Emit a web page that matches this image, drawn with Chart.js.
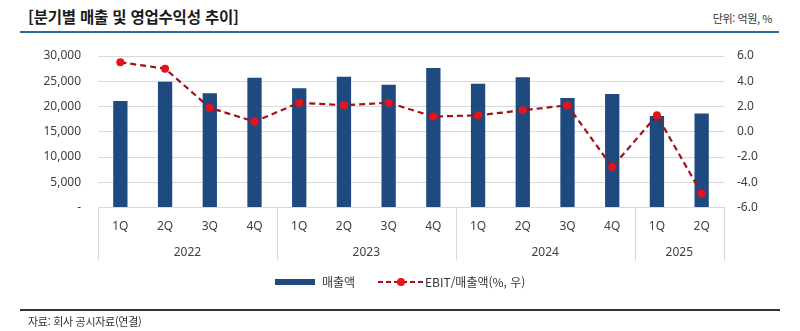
<!DOCTYPE html>
<html lang="ko">
<head>
<meta charset="utf-8">
<title>분기별 매출 및 영업수익성 추이</title>
<script src="https://cdn.jsdelivr.net/npm/chart.js@4.4.1/dist/chart.umd.min.js"></script>
<style>
  html, body { margin: 0; padding: 0; background: #ffffff; }
  #wrap { position: relative; width: 800px; height: 331px; overflow: hidden; font-family: "Noto Sans CJK KR", "Noto Sans", sans-serif; color: #222; }
  #chart { position: absolute; left: 0; top: 0; }
  .title { position: absolute; left: 28px; top: 6px; font-size: 15.5px; font-weight: bold; line-height: 20px; color: #1a1a1a; letter-spacing: -0.2px; }
  .title-rule { position: absolute; left: 20px; top: 31px; width: 759px; height: 2px; background: #2d6c96; }
  .unit { position: absolute; right: 28px; top: 10px; font-size: 11px; line-height: 16px; color: #333; letter-spacing: -0.4px; }
  .legend { position: absolute; top: 274px; left: 275px; height: 16px; font-size: 12px; line-height: 16px; color: #333; white-space: nowrap; }
  .legend .sw-bar { position: absolute; left: 0; top: 5px; width: 40px; height: 6px; background: #1f4a80; }
  .legend .t1 { position: absolute; left: 47px; top: 0; }
  .legend svg { position: absolute; left: 103px; top: 0; }
  .legend .t2 { position: absolute; left: 150px; top: 0; }
  .source-rule { position: absolute; left: 20px; top: 309px; width: 760px; height: 1.5px; background: #333; }
  .source { position: absolute; left: 28px; top: 313px; font-size: 11px; line-height: 16px; color: #333; letter-spacing: -0.3px; }
</style>
</head>
<body>
<div id="wrap">
  <div class="title">[분기별 매출 및 영업수익성 추이]</div>
  <div class="unit">단위: 억원, %</div>
  <div class="title-rule"></div>
  <canvas id="chart" width="800" height="331"></canvas>
  <div class="legend">
    <span class="sw-bar"></span><span class="t1">매출액</span>
    <svg width="46" height="16" viewBox="0 0 46 16">
      <line x1="0" y1="8" x2="46" y2="8" stroke="#a3121a" stroke-width="2" stroke-dasharray="5,3"/>
      <circle cx="23" cy="8" r="4" fill="#e5141b"/>
    </svg>
    <span class="t2">EBIT/매출액(%, 우)</span>
  </div>
  <div class="source-rule"></div>
  <div class="source">자료: 회사 공시자료(연결)</div>
</div>
<script>
// Quarterly categories, grouped by fiscal year
const quarters = ['1Q', '2Q', '3Q', '4Q', '1Q', '2Q', '3Q', '4Q', '1Q', '2Q', '3Q', '4Q', '1Q', '2Q'];
const years = ['2022', '2023', '2024', '2025'];
const quartersPerYear = [4, 4, 4, 2];

// 매출액 (억원)
const revenue = [21100, 24900, 22600, 25700, 23600, 25900, 24300, 27600, 24500, 25800, 21700, 22500, 18100, 18600];
// EBIT/매출액 (%)
const ebitMargin = [5.5, 5.0, 1.9, 0.8, 2.3, 2.1, 2.3, 1.2, 1.3, 1.7, 2.1, -2.8, 1.3, -4.9];

// Axis tick ranges
const revenueTicks = { min: 0, max: 30000, step: 5000 };
const marginTicks = { min: -6, max: 6, step: 2 };

const tickColor = '#404040';
const gridColor = '#d9d9d9';

// Draws the year row under the quarter labels, with group separators
const yearGroups = {
  id: 'yearGroups',
  afterDraw(chart) {
    const x = chart.scales.x;
    const ctx = chart.ctx;
    const half = (x.getPixelForValue(1) - x.getPixelForValue(0)) / 2;
    const top = chart.chartArea.bottom;
    const bottom = top + 53;
    ctx.save();
    ctx.strokeStyle = gridColor;
    ctx.lineWidth = 1;
    ctx.fillStyle = tickColor;
    ctx.font = '12px "Noto Sans", "Noto Sans CJK KR", sans-serif';
    ctx.textAlign = 'center';
    ctx.textBaseline = 'middle';
    let start = 0;
    const edges = [];
    years.forEach((yr, i) => {
      const end = start + quartersPerYear[i] - 1;
      const left = x.getPixelForValue(start) - half;
      const right = x.getPixelForValue(end) + half;
      edges.push(left);
      if (i === years.length - 1) edges.push(right);
      ctx.fillText(yr, (left + right) / 2, top + 45.5);
      start = end + 1;
    });
    edges.forEach(e => {
      const px = Math.round(e) + 0.5;
      ctx.beginPath();
      ctx.moveTo(px, top);
      ctx.lineTo(px, bottom);
      ctx.stroke();
    });
    ctx.restore();
  }
};

new Chart(document.getElementById('chart'), {
  data: {
    labels: quarters,
    datasets: [
      {
        type: 'line',
        label: 'EBIT/매출액(%, 우)',
        data: ebitMargin,
        yAxisID: 'y1',
        order: 0,
        borderColor: '#a3121a',
        borderWidth: 2.2,
        borderDash: [6, 4],
        tension: 0,
        pointRadius: 4,
        pointBackgroundColor: '#e5141b',
        pointBorderColor: '#e5141b',
        pointBorderWidth: 0,
        fill: false
      },
      {
        type: 'bar',
        label: '매출액',
        data: revenue,
        yAxisID: 'y',
        order: 1,
        backgroundColor: '#1f4a80',
        borderWidth: 0,
        categoryPercentage: 1,
        barPercentage: 0.32
      }
    ]
  },
  options: {
    responsive: false,
    animation: false,
    events: [],
    layout: { padding: { top: 56, bottom: 0, left: 0, right: 0 } },
    plugins: {
      legend: { display: false },
      tooltip: { enabled: false },
      title: { display: false }
    },
    scales: {
      x: {
        type: 'category',
        afterFit(s) { s.height = 123.5; },
        grid: { display: false, drawTicks: false },
        border: { display: true, color: gridColor, width: 1 },
        ticks: {
          color: tickColor,
          font: { family: '"Noto Sans", "Noto Sans CJK KR", sans-serif', size: 12 },
          padding: 12,
          maxRotation: 0,
          autoSkip: false
        }
      },
      y: {
        position: 'left',
        min: revenueTicks.min,
        max: revenueTicks.max,
        afterFit(s) { s.width = 98; },
        grid: { color: gridColor, lineWidth: 1, drawTicks: false },
        border: { display: false },
        ticks: {
          stepSize: revenueTicks.step,
          color: tickColor,
          padding: 17,
          font: { family: '"Noto Sans", "Noto Sans CJK KR", sans-serif', size: 12 },
          callback: v => v === 0 ? '-' : v.toLocaleString('en-US')
        }
      },
      y1: {
        position: 'right',
        min: marginTicks.min,
        max: marginTicks.max,
        afterFit(s) { s.width = 76; },
        grid: { drawOnChartArea: false, drawTicks: false },
        border: { display: false },
        ticks: {
          stepSize: marginTicks.step,
          color: tickColor,
          padding: 13,
          font: { family: '"Noto Sans", "Noto Sans CJK KR", sans-serif', size: 12 },
          callback: v => v.toFixed(1)
        }
      }
    }
  },
  plugins: [yearGroups]
});
</script>
</body>
</html>
